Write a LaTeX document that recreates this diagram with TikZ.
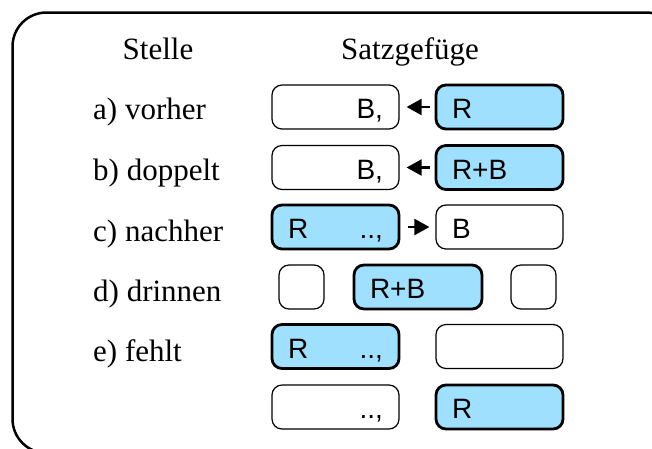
\documentclass[tikz,border=0pt]{standalone}
\usepackage{fontspec}
\setmainfont{Liberation Serif}
\newfontfamily\boxfont{Liberation Sans}
\usetikzlibrary{arrows.meta}
\definecolor{rblue}{RGB}{160,224,255}
\begin{document}
\begin{tikzpicture}[x=1pt,y=-1pt,
 lbl/.style={anchor=base west,font=\fontsize{31}{36}\selectfont,inner sep=0pt},
 hdr/.style={anchor=base,font=\fontsize{31}{36}\selectfont,inner sep=0pt},
 wbox/.style={draw,line width=1.2pt,rounded corners=10pt,fill=white,minimum height=44pt,
   inner ysep=0pt,inner xsep=16pt,font=\boxfont\fontsize{28}{32}\selectfont,
   text height=23pt,text depth=0pt},
 bbox/.style={wbox,line width=2.8pt,fill=rblue},
 arr/.style={line width=2.2pt,-{Triangle[length=15pt 0,width=16pt 0]}}]
\clip (0,0) rectangle (652,448);
\fill[white] (0,0) rectangle (652,448);
\draw[line width=2.5pt,rounded corners=34pt] (12.5,12.5) rectangle (680,453);

\node[hdr] (h1) at (158,59) {Stelle};
\node[hdr] (h2) at (410,59) {Satzgefüge};

\node[lbl] (la) at (93,119) {a) vorher};
\node[lbl] (lb) at (93,180) {b) doppelt};
\node[lbl] (lc) at (93,241) {c) nachher};
\node[lbl] (ld) at (93,301) {d) drinnen};
\node[lbl] (le) at (93,361) {e) fehlt};

% row a
\node[wbox,text width=95pt,align=right] (a1) at (335.5,107) {B,\hspace*{2pt}};
\node[bbox,text width=95pt,align=left] (a2) at (499.5,107) {R};
\draw[arr,shorten <=5pt,shorten >=7pt] (a2.west) -- (a1.east);
% row b
\node[wbox,text width=95pt,align=right] (b1) at (335.5,167.5) {B,\hspace*{2pt}};
\node[bbox,text width=95pt,align=left] (b2) at (499.5,167.5) {R+B};
\draw[arr,shorten <=5pt,shorten >=7pt] (b2.west) -- (b1.east);
% row c
\node[bbox,text width=95pt,align=left] (c1) at (335.5,227) {R\hfill..,\hspace*{-5pt}};
\node[wbox,text width=95pt,align=left] (c2) at (499.5,227) {B};
\draw[arr,shorten <=8pt,shorten >=6pt] (c1.east) -- (c2.west);
% row d
\node[wbox,minimum width=45pt,inner xsep=0pt] (d1) at (301.5,287) {};
\node[bbox,text width=96pt,align=left] (d2) at (418,287) {R+B};
\node[wbox,minimum width=45pt,inner xsep=0pt] (d3) at (533.5,287) {};
% row e
\node[bbox,text width=95pt,align=left] (e1) at (335.5,346.5) {R\hfill..,\hspace*{-5pt}};
\node[wbox,text width=95pt] (e2) at (499.5,346.5) {};
% row f
\node[wbox,text width=95pt,align=left] (f1) at (335.5,407) {\hfill..,\hspace*{-5pt}};
\node[bbox,text width=95pt,align=left] (f2) at (499.5,407) {R};
\end{tikzpicture}
\end{document}
